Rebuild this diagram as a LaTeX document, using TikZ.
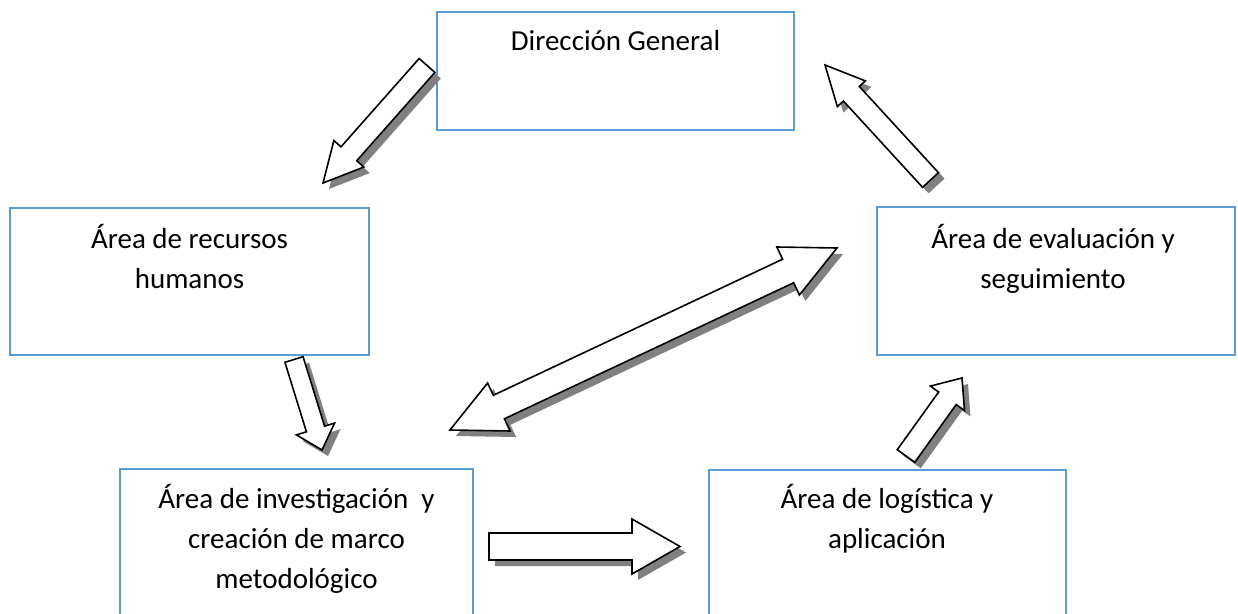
\documentclass[tikz,border=0pt]{standalone}
\usepackage{fontspec}
\setmainfont{Carlito}
\usetikzlibrary{calc}
\definecolor{boxblue}{HTML}{5B9BD5}
\definecolor{shadowgray}{HTML}{808080}
\tikzset{
  areabox/.style={draw=boxblue, line width=2pt, fill=white, rectangle, inner sep=0pt},
  lbl/.style={font=\fontsize{29}{40}\selectfont, align=center, inner sep=0pt, text=black},
  blkarrow/.style={draw=black, fill=white, line width=1.6pt, line join=miter},
  blkshadow/.style={fill=shadowgray, transform canvas={shift={(6pt,-6pt)}}}
}
% single block arrow path: #1 tail, #2 tip, #3 half shaft, #4 half head, #5 head length
\newcommand\sarrpath[5]{($(#1)!#3pt!90:(#2)$) -- ($(#2-base)!#3pt!90:(#2)$) -- ($(#2-base)!#4pt!90:(#2)$) -- (#2) -- ($(#2-base)!#4pt!-90:(#2)$) -- ($(#2-base)!#3pt!-90:(#2)$) -- ($(#1)!#3pt!-90:(#2)$) -- cycle}
\newcommand\singlearrow[5]{%
  \coordinate (#2-base) at ($(#2)!#5pt!(#1)$);
  \fill[blkshadow] \sarrpath{#1}{#2}{#3}{#4}{#5};
  \filldraw[blkarrow] \sarrpath{#1}{#2}{#3}{#4}{#5};
}
% double block arrow path: #1 tip A, #2 tip B, #3 half shaft, #4 half head
\newcommand\darrpath[4]{(#1) -- ($(#1-base)!#4pt!90:(#2)$) -- ($(#1-base)!#3pt!90:(#2)$) -- ($(#2-base)!#3pt!-90:(#1)$) -- ($(#2-base)!#4pt!-90:(#1)$) -- (#2) -- ($(#2-base)!#4pt!90:(#1)$) -- ($(#2-base)!#3pt!90:(#1)$) -- ($(#1-base)!#3pt!-90:(#2)$) -- ($(#1-base)!#4pt!-90:(#2)$) -- cycle}
\newcommand\doublearrow[5]{%
  \coordinate (#1-base) at ($(#1)!#5pt!(#2)$);
  \coordinate (#2-base) at ($(#2)!#5pt!(#1)$);
  \fill[blkshadow] \darrpath{#1}{#2}{#3}{#4};
  \filldraw[blkarrow] \darrpath{#1}{#2}{#3}{#4};
}
\begin{document}
\begin{tikzpicture}[x=1pt,y=-1pt]
\useasboundingbox[fill=white] (0,0) rectangle (1238,613);

% boxes
\node[areabox, minimum width=357pt, minimum height=118pt] (dg) at (615.5,71) {};
\node[areabox, minimum width=359pt, minimum height=147pt] (rh) at (189.5,281.5) {};
\node[areabox, minimum width=358pt, minimum height=148pt] (ev) at (1056,281) {};
\node[areabox, minimum width=353pt, minimum height=171pt] (inv) at (296.5,554.5) {};
\node[areabox, minimum width=357pt, minimum height=170pt] (log) at (887.5,555) {};

% texts (anchor=base is the baseline of the last line)
\node[lbl, anchor=base] (dgt) at (615.5,50) {Dirección General};
\node[lbl, anchor=base] (rht) at (189.5,288) {Área de recursos\\humanos};
\node[lbl, anchor=base] (evt) at (1053,288) {Área de evaluación y\\seguimiento};
\node[lbl, anchor=base] (invt) at (296.5,588) {Área de investigación~ y\\creación de marco\\metodológico};
\node[lbl, anchor=base] (logt) at (887,548) {Área de logística y\\aplicación};

% arrow end points
\coordinate (a1tail) at (427,65.5);  \coordinate (a1tip) at (323,183);
\coordinate (a2tail) at (930.5,180); \coordinate (a2tip) at (825,65);
\coordinate (a3tail) at (294,359.5); \coordinate (a3tip) at (322,450);
\coordinate (a4tail) at (489,546.5); \coordinate (a4tip) at (680,546.5);
\coordinate (a5tail) at (906,456);   \coordinate (a5tip) at (962,378);
\coordinate (a6a) at (450,430);      \coordinate (a6b) at (837,248);

% arrows
\singlearrow{a1tail}{a1tip}{10.5}{20}{39}
\singlearrow{a2tail}{a2tip}{10.8}{19}{39}
\singlearrow{a3tail}{a3tip}{9.5}{20}{22}
\singlearrow{a4tail}{a4tip}{13.5}{27.5}{48}
\singlearrow{a5tail}{a5tip}{10.8}{21}{25}
\doublearrow{a6a}{a6b}{13}{26.5}{54}
\end{tikzpicture}
\end{document}
